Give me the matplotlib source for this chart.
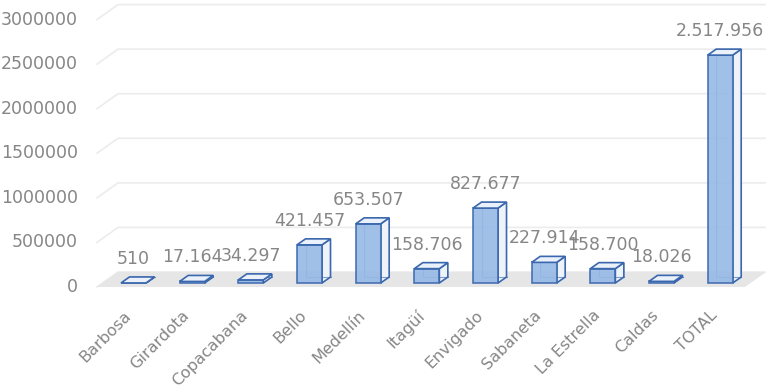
import numpy as np
import matplotlib
matplotlib.use('Agg')
import matplotlib.pyplot as plt

# data
municipios = ['Barbosa', 'Girardota', 'Copacabana', 'Bello', 'Medellín', 'Itagüí',
              'Envigado', 'Sabaneta', 'La Estrella', 'Caldas', 'TOTAL']
valores = [510, 17164, 34297, 421457, 653507, 158706, 827677, 227914, 158700, 18026, 2517956]
etiquetas = ['510', '17.164', '34.297', '421.457', '653.507', '158.706', '827.677',
             '227.914', '158.700', '18.026', '2.517.956']
y_ticks = [0, 500000, 1000000, 1500000, 2000000, 2500000, 3000000]

W, H = 774, 392
fig = plt.figure(figsize=(W / 100, H / 100), dpi=100)
ax = fig.add_axes([0, 0, 1, 1])
ax.set_axis_off()

# pixel anchors -> data limits
px0, pstep = 133.5, 58.67       # x pixel of first bar centre, spacing
py0, pscale = 283.0, 90.5e-6    # y pixel of value 0, pixels per unit
ax.set_xlim(-px0 / pstep, (W - px0) / pstep)
ax.set_ylim(-(H - py0) / pscale, py0 / pscale)

def px_x(p):
    return (p - px0) / pstep

def px_dy(p):
    return p / pscale

gris = '#868686'
x = np.arange(len(valores))

# floor and back-wall gridlines
front_off = -px_dy(4)
wdx, wdy = px_x(118) - px_x(97), px_dy(15)
xl, xr = px_x(97), px_x(745)
ax.fill([xl, xr, xr + wdx, xl + wdx], [front_off, front_off, front_off + wdy, front_off + wdy],
        color='#e6e6e6', zorder=1, lw=0)
for t in y_ticks:
    yf = t * 0.985 + front_off
    ax.plot([xl, xl + wdx, px_x(765)], [yf, yf + wdy, yf + wdy], color='#ececec', lw=1.2, zorder=0.5)
    ax.text(px_x(78), yf, str(t), ha='right', va='center', fontsize=12.5, color=gris)

# 3d bars
bw = 25 / pstep
bdx, bdy = 8.5 / pstep, px_dy(6)
edge = '#3a67ad'
for xi, v in zip(x, valores):
    l, r = xi - bw / 2, xi + bw / 2
    # side face
    ax.fill([r, r + bdx, r + bdx, r], [0, bdy, v + bdy, v], facecolor='#eef3fa',
            edgecolor=edge, lw=1.2, zorder=3)
    # hidden back edges seen through front
    ax.plot([l + bdx, l + bdx, r + bdx], [v + bdy, bdy, bdy], color=edge, lw=0.8, alpha=0.6, zorder=3.5)
    ax.bar(xi, v, bw, color='#96b9e6', alpha=0.9, edgecolor=edge, lw=1.2, zorder=4)
    # top face
    ax.fill([l, r, r + bdx, l + bdx], [v, v, v + bdy, v + bdy], facecolor='#eaf1fb',
            edgecolor=edge, lw=1.2, zorder=5)

for xi, v, s in zip(x, valores, etiquetas):
    ax.text(xi, v + px_dy(24), s, ha='center', va='center', fontsize=12.5, color=gris, zorder=6)

for xi, nombre in zip(x, municipios):
    ax.text(xi - 5 / pstep, -px_dy(30), nombre, rotation=45, rotation_mode='anchor',
            ha='right', va='center', fontsize=11.5, color=gris)

fig.savefig('out.png', dpi=100)
